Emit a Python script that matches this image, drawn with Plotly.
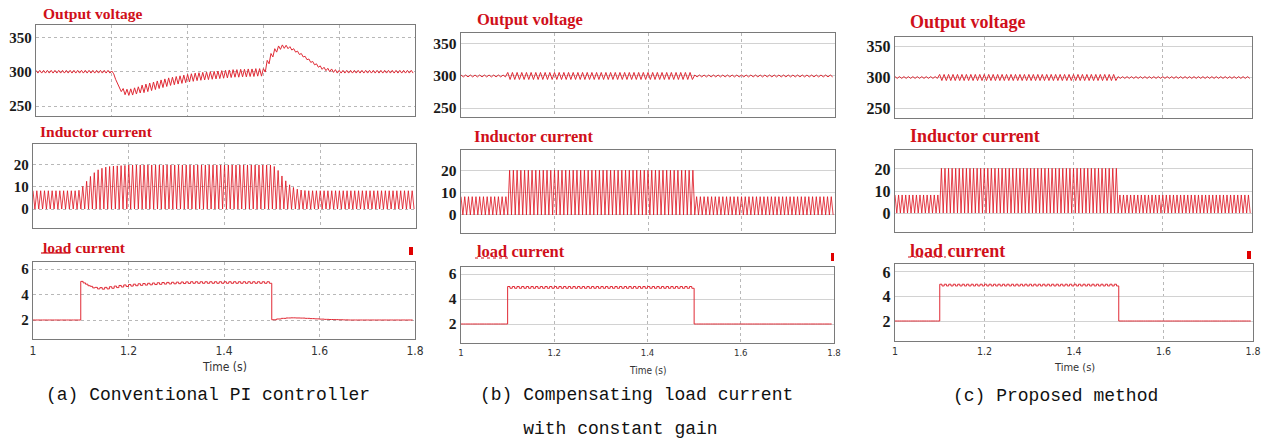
import numpy as np
import plotly.graph_objects as go

W, H = 1262, 443

# ---------------- data ----------------
# Output voltage, panel (a): one ripple tooth every 0.01 s from 0.9 s
VA_T0, V_STEP = 0.9, 0.01
VA_MID = ([300] * 20 +
          [299, 286, 275, 271, 270, 270.5, 272, 273.5, 275, 276.5,
           278, 279.5, 281, 282.5, 284, 285.5, 286.5, 287.5, 288.5, 289.5,
           290.5, 291.5, 292.5, 293, 293.5, 294, 294.5, 295, 295.5, 296,
           296.5, 297, 297.5, 297.5, 298, 298, 298.5, 298.5, 299, 299,
           302, 314, 324, 331, 335, 336.5, 336, 334, 331, 327.5,
           324, 320, 316, 312.5, 309, 306, 304, 302.5, 301.5, 300.5] +
          [300] * 20)
VA_AMP = [2] * 21 + [3, 4] + [4.5] * 5 + [5.5] * 32 + [2.5] * 20 + [2] * 20

# Output voltage, panels (b) and (c): teeth every 0.01 s from 1.0 s
VBC_T0 = 1.0
VB_MID = [300] * 80
VB_AMP = [1.5] * 10 + [5.5] * 40 + [1.5] * 30
VC_MID = [300] * 80
VC_AMP = [1.5] * 10 + [5.0] * 40 + [1.5] * 30

# Inductor current: peak of each switching tooth (every 0.008 s from 1.0 s), valleys at 0
I_T0, I_STEP = 1.0, 0.008
IA_UP = ([8.3] * 12 +
         [8.5, 10.3, 12.6, 14.8, 16.5, 17.8, 18.5, 19, 19.3, 19.5, 19.6, 19.7, 19.8] +
         [20] * 38 +
         [19.3, 17.5, 15, 12.8, 11, 9.8, 9, 8.6, 8.4] +
         [8.3] * 28)
IB_UP = [8.3] * 13 + [20.3] * 50 + [8.3] * 37
IC_UP = [8.2] * 13 + [20.3] * 50 + [8.2] * 37
I_LOW = 0.0

# Load current: teeth every 0.01 s from 1.0 s
LA_MID = ([2] * 10 +
          [4.97, 4.75, 4.58, 4.5, 4.48, 4.5, 4.55, 4.6, 4.65, 4.69, 4.72, 4.75,
           4.78, 4.8, 4.82, 4.84, 4.86, 4.88, 4.89, 4.9, 4.91, 4.92, 4.93] +
          [4.94] * 17 +
          [2.02, 2.08, 2.13, 2.16, 2.17, 2.16, 2.15, 2.13, 2.11, 2.09, 2.07,
           2.05, 2.04, 2.03, 2.02, 2.01] +
          [2] * 14)
LA_AMP = [0] * 10 + [0.06] * 40 + [0] * 30
LB_MID = [2] * 10 + [4.93] * 40 + [2] * 30
LB_AMP = [0] * 10 + [0.07] * 40 + [0] * 30
LC_MID = [2] * 10 + [4.93] * 40 + [2] * 30
LC_AMP = [0] * 10 + [0.07] * 40 + [0] * 30

V_TICKS = [250, 300, 350]
I_TICKS = [0, 10, 20]
L_TICKS = [2, 4, 6]
X_TICKS = [1, 1.2, 1.4, 1.6, 1.8]
X_TICKTEXT = ["1", "1.2", "1.4", "1.6", "1.8"]
PANEL_TITLES = ["Output voltage", "Inductor current", "load current"]
CAPTIONS = ["(a) Conventional PI controller",
            "(b) Compensating load current",
            "    with constant gain",
            "(c) Proposed method"]


# ---------------- helpers ----------------
def zig_mid(t0, step, mid, amp):
    xs, ys = [], []
    for k, (m, a) in enumerate(zip(mid, amp)):
        t = t0 + k * step
        xs += [t, t + step / 2]
        ys += [m + a, m - a]
    return xs, ys


def zig_env(t0, step, up, low):
    xs, ys = [], []
    for k, u in enumerate(up):
        t = t0 + k * step
        xs += [t, t + step / 2]
        ys += [u, low]
    return xs, ys


RED = "#e02a35"
fig = go.Figure()

cols = [
    dict(V=(36, 415, 25, 116), I=(33, 416, 144, 228), L=(33, 415, 262, 339),
         Vr=[235.5, 368], Ir=[-8.6, 29.5], Lr=[0.51, 6.55],
         tickfs=15, titlefs=15.5, xfs=12, timefs=12, hgrid="dot"),
    dict(V=(461, 835, 33, 117), I=(461, 835, 150, 233), L=(461, 834, 267, 343),
         Vr=[236, 367], Ir=[-8.2, 29.5], Lr=[0.48, 6.56],
         tickfs=15.5, titlefs=16.5, xfs=9.5, timefs=10, hgrid="solid"),
    dict(V=(895, 1252, 37, 118), I=(895, 1252, 150, 232), L=(895, 1253, 264, 341),
         Vr=[234, 366], Ir=[-8.6, 28.6], Lr=[0.37, 6.65],
         tickfs=16, titlefs=18, xfs=10.5, timefs=11, hgrid="solid"),
]

series = [
    (zig_mid(VA_T0, V_STEP, VA_MID, VA_AMP), zig_env(I_T0, I_STEP, IA_UP, I_LOW),
     zig_mid(VBC_T0, V_STEP, LA_MID, LA_AMP)),
    (zig_mid(VBC_T0, V_STEP, VB_MID, VB_AMP), zig_env(I_T0, I_STEP, IB_UP, I_LOW),
     zig_mid(VBC_T0, V_STEP, LB_MID, LB_AMP)),
    (zig_mid(VBC_T0, V_STEP, VC_MID, VC_AMP), zig_env(I_T0, I_STEP, IC_UP, I_LOW),
     zig_mid(VBC_T0, V_STEP, LC_MID, LC_AMP)),
]

layout = {}
annotations = []
shapes = []
serif = "Liberation Serif"
narrow = "Liberation Sans Narrow, DejaVu Sans Condensed, Liberation Sans, Arial"

for c, cfg in enumerate(cols):
    for r, key in enumerate(["V", "I", "L"]):
        i = c * 3 + r + 1
        x0, x1, y0, y1 = cfg[key]
        xs, ys = series[c][r]
        tr = dict(x=xs, y=ys, mode="lines", xaxis=f"x{i}", yaxis=f"y{i}",
                  showlegend=False, hoverinfo="skip")
        if key == "V":
            tr["line"] = dict(color=RED, width=1)
        elif key == "I":
            tr["line"] = dict(color="rgba(222,20,32,0.9)", width=0.9)
        else:
            tr["line"] = dict(color=RED, width=1, shape="hv")
        fig.add_trace(go.Scatter(**tr))

        if key == "V" and c == 0:
            xr, xt = [0.9, 1.9], [1.1, 1.3, 1.5, 1.7]
        else:
            xr, xt = [1.0, 1.8], ([1.2, 1.4, 1.6] if key != "L" else X_TICKS)
        xa = dict(domain=[x0 / W, x1 / W], anchor=f"y{i}", range=xr,
                  tickvals=xt, showticklabels=(key == "L"),
                  showgrid=True, gridcolor="#b8b8b8", griddash="dot", gridwidth=1,
                  showline=True, mirror=True, linecolor="#7a7a7a", linewidth=1.3,
                  zeroline=False, ticks="", fixedrange=True, automargin=False)
        if key == "L":
            xa["ticktext"] = X_TICKTEXT
            xa["tickfont"] = dict(family=narrow, size=cfg["xfs"], color="#333")
        rng = cfg[key + "r"]
        yt = {"V": V_TICKS, "I": I_TICKS, "L": L_TICKS}[key]
        ya = dict(domain=[1 - y1 / H, 1 - y0 / H], anchor=f"x{i}", range=rng,
                  tickvals=yt, showgrid=True,
                  gridcolor="#b8b8b8" if cfg["hgrid"] == "dot" else "#d2d2d2",
                  griddash=cfg["hgrid"], gridwidth=1,
                  showline=True, mirror=True, linecolor="#7a7a7a", linewidth=1.3,
                  zeroline=False, ticks="", fixedrange=True, automargin=False,
                  tickfont=dict(family=serif, size=cfg["tickfs"], color="#1a1a1a",
                                weight="bold"))
        layout[f"xaxis{i}"] = xa
        layout[f"yaxis{i}"] = ya

title_pos = [
    [(41, 13), (38, 131), (41, 247)],
    [(475, 19), (472, 136), (475, 251)],
    [(908, 22), (908, 136), (908, 251)],
]
for c in range(3):
    for r in range(3):
        px, py = title_pos[c][r]
        annotations.append(dict(
            x=px / W, y=1 - py / H, xref="paper", yref="paper",
            xanchor="left", yanchor="middle", showarrow=False,
            text=f"<b>{PANEL_TITLES[r]}</b>",
            font=dict(family=serif, size=cols[c]["titlefs"], color="#d0101a")))

for c, (px, py) in enumerate([(224, 367), (648, 370), (1074, 367)]):
    annotations.append(dict(x=px / W, y=1 - py / H, xref="paper", yref="paper",
                            xanchor="center", yanchor="middle", showarrow=False,
                            text="Time (s)",
                            font=dict(family=narrow, size=cols[c]["timefs"], color="#333")))

cap_font = dict(family="Liberation Mono", size=18, color="#111")
for text, px, py, anc in [(CAPTIONS[0], 208, 395, "center"),
                          (CAPTIONS[1], 478, 395, "left"),
                          (CAPTIONS[2], 478, 429, "left"),
                          (CAPTIONS[3], 1055, 396, "center")]:
    annotations.append(dict(x=px / W, y=1 - py / H, xref="paper", yref="paper",
                            xanchor=anc, yanchor="middle", showarrow=False,
                            text=text.replace(" ", "&nbsp;"), font=cap_font))

for (ux0, ux1, uy, dash) in [(41, 70, 253, "solid"), (475, 509, 258, "dot"),
                             (908, 946, 257, "dot")]:
    shapes.append(dict(type="line", xref="paper", yref="paper",
                       x0=ux0 / W, x1=ux1 / W, y0=1 - uy / H, y1=1 - uy / H,
                       line=dict(color="#d0101a", width=1.2, dash=dash)))
for (mx0, mx1, my0, my1) in [(409, 413, 247, 255), (831, 834, 253, 261),
                             (1247, 1251, 251, 259)]:
    shapes.append(dict(type="rect", xref="paper", yref="paper",
                       x0=mx0 / W, x1=mx1 / W, y0=1 - my1 / H, y1=1 - my0 / H,
                       line=dict(width=0), fillcolor="#e00000"))

fig.update_layout(width=W, height=H, margin=dict(l=0, r=0, t=0, b=0),
                  paper_bgcolor="white", plot_bgcolor="white",
                  annotations=annotations, shapes=shapes, **layout)

fig.write_html("out.html",
               config={"displayModeBar": False, "staticPlot": True},
               post_script="document.body.style.margin='0';"
                           "document.body.style.overflow='hidden';")
